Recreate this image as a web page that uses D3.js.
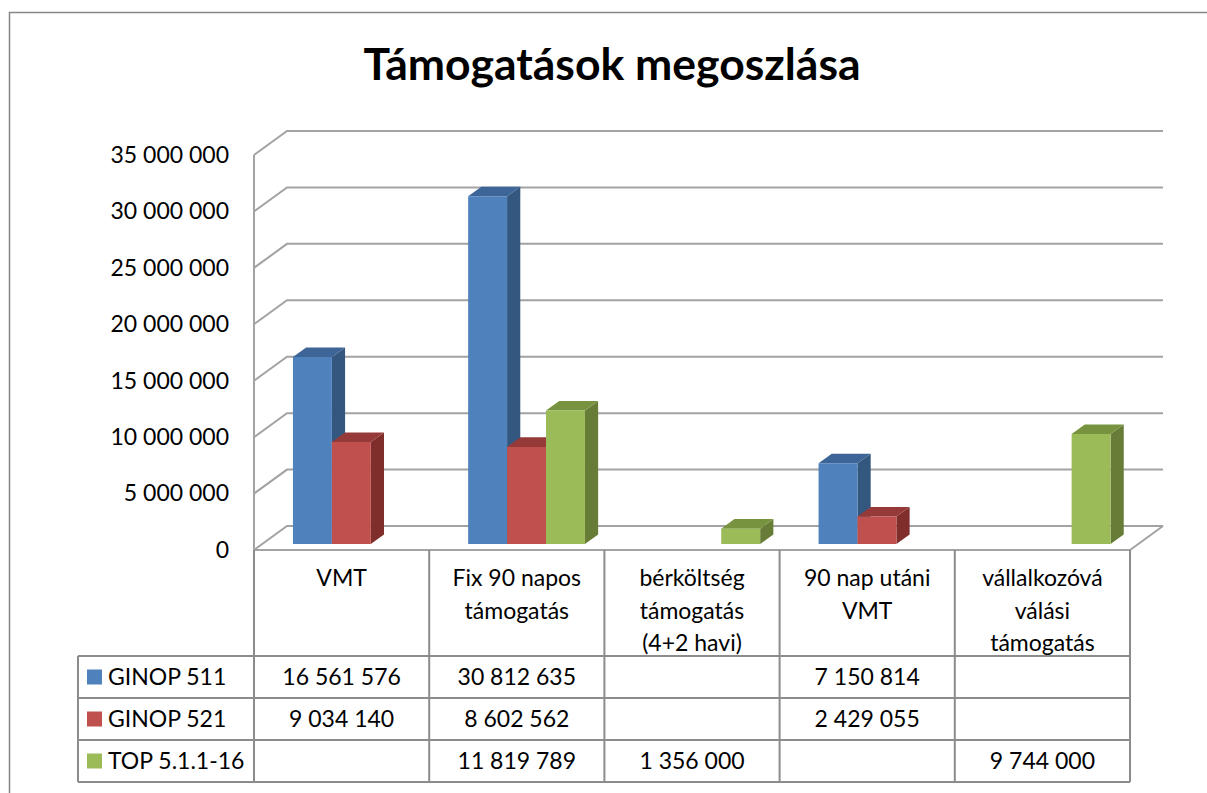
<!DOCTYPE html>
<html>
<head>
<meta charset="utf-8">
<script src="https://cdn.jsdelivr.net/npm/d3@7"></script>
<style>
  body { margin: 0; background: #fff; }
  text { font-family: Lato, "Open Sans", sans-serif; fill: #000; }
</style>
</head>
<body>
<div id="chart"></div>
<script>
// data
const categories = ["VMT", "Fix 90 napos támogatás", "bérköltség támogatás (4+2 havi)", "90 nap utáni VMT", "vállalkozóvá válási támogatás"];
const categoryLines = [["VMT"], ["Fix 90 napos", "támogatás"], ["bérköltség", "támogatás", "(4+2 havi)"], ["90 nap utáni", "VMT"], ["vállalkozóvá", "válási", "támogatás"]];
const seriesNames = ["GINOP 511", "GINOP 521", "TOP 5.1.1-16"];
const ginop511 = [16561576, 30812635, null, 7150814, null];
const ginop521 = [9034140, 8602562, null, 2429055, null];
const top5116 = [null, 11819789, 1356000, null, 9744000];
const yTicks = [0, 5000000, 10000000, 15000000, 20000000, 25000000, 30000000, 35000000];

const seriesValues = [ginop511, ginop521, top5116];
const colors = [
  {front: "#4f81bd", top: "#3e6598", side: "#34577f"},
  {front: "#c0504d", top: "#953a38", side: "#7f2e2c"},
  {front: "#9bbb59", top: "#789340", side: "#677d37"}
];

const w = 1207, h = 793;
const left = 254, right = 1130, floorY = 550;
const depthX = 33, depthY = 24;   // 3d offset of back wall
const barD0 = 0.25, barD1 = 0.65; // bar depth inside the floor
const fontSize = "23px";

const nf = d3.formatLocale({decimal: ",", thousands: " ", grouping: [3], currency: ["", ""]}).format(",d");

const proj = (x, y, d) => [x + depthX * d, y - depthY * d];

const svg = d3.select("#chart").append("svg")
  .attr("width", w)
  .attr("height", h);

// outer border (cut off on right and bottom)
svg.append("rect")
  .attr("x", 9.5).attr("y", 12.5)
  .attr("width", 1300).attr("height", 900)
  .attr("fill", "none")
  .attr("stroke", "#868686")
  .attr("stroke-width", 1.5);

svg.append("text")
  .attr("x", 612)
  .attr("y", 80)
  .attr("text-anchor", "middle")
  .style("font-size", "44.5px")
  .style("font-weight", "bold")
  .text("Támogatások megoszlása");

const x = d3.scaleBand().domain(categories).range([left, right]);
const xs = d3.scaleBand().domain(seriesNames).range([0, x.bandwidth()]).paddingOuter(0.75);
const y = d3.scaleLinear().domain([0, 35000000]).range([floorY, floorY - 395]);

// walls + gridlines
const grid = svg.append("g").attr("stroke", "#a3a3a3").attr("stroke-width", 2).attr("fill", "none");
yTicks.forEach(t => {
  const [bx, by] = proj(left, y(t), 1);
  const [ex] = proj(right, y(t), 1);
  grid.append("polyline")
    .attr("points", `${left},${y(t)} ${bx},${by} ${ex},${by}`);
});
grid.append("line")
  .attr("x1", left).attr("x2", left)
  .attr("y1", y(35000000)).attr("y2", floorY);
// floor front and right edges
const fr = proj(right, floorY, 1);
grid.append("polyline")
  .attr("points", `${left},${floorY} ${right},${floorY} ${fr[0]},${fr[1]}`);

// y axis labels
const yAxis = d3.axisLeft(y).tickValues(yTicks).tickFormat(nf).tickSize(0).tickPadding(25);
svg.append("g")
  .attr("transform", `translate(${left},0)`)
  .call(yAxis)
  .call(g => g.select(".domain").remove())
  .selectAll("text")
  .style("font-size", fontSize)
  .style("font-family", "Lato, 'Open Sans', sans-serif")
  .attr("fill", "#000");

// bars
const bars = svg.append("g");
categories.forEach((c, ci) => {
  seriesNames.forEach((s, si) => {
    const v = seriesValues[si][ci];
    if (v == null) return;
    const x0 = x(c) + xs(s) + 1.5, x1 = x0 + xs.bandwidth();
    const yt = y(v), yb = y(0);
    const p = (px, py, d) => proj(px, py, d).join(",");
    const col = colors[si];
    bars.append("polygon")
      .attr("points", [p(x1, yt, barD0), p(x1, yt, barD1), p(x1, yb, barD1), p(x1, yb, barD0)].join(" "))
      .attr("fill", col.side);
    bars.append("polygon")
      .attr("points", [p(x0, yt, barD0), p(x1, yt, barD0), p(x1, yt, barD1), p(x0, yt, barD1)].join(" "))
      .attr("fill", col.top);
    bars.append("polygon")
      .attr("points", [p(x0, yt, barD0), p(x1, yt, barD0), p(x1, yb, barD0), p(x0, yb, barD0)].join(" "))
      .attr("fill", col.front);
  });
});

// data table
const rowTop = 656, rowH = 42, tableLeft = 78;
const table = svg.append("g").attr("stroke", "#8c8c8c").attr("stroke-width", 2);
for (let i = 0; i <= categories.length; i++) {
  const xx = left + i * x.step();
  table.append("line").attr("x1", xx).attr("x2", xx).attr("y1", floorY).attr("y2", rowTop + rowH * 3);
}
table.append("line").attr("x1", tableLeft).attr("x2", tableLeft).attr("y1", rowTop).attr("y2", rowTop + rowH * 3);
for (let r = 0; r <= 3; r++) {
  table.append("line").attr("x1", tableLeft).attr("x2", right).attr("y1", rowTop + r * rowH).attr("y2", rowTop + r * rowH);
}

// header labels
categories.forEach((c, ci) => {
  const t = svg.append("text")
    .attr("text-anchor", "middle")
    .style("font-size", fontSize);
  categoryLines[ci].forEach((line, li) => {
    t.append("tspan")
      .attr("x", x(c) + x.bandwidth() / 2)
      .attr("y", 586 + li * 32.5)
      .text(line);
  });
});

// legend column + values
seriesNames.forEach((s, si) => {
  const cy = rowTop + si * rowH + rowH / 2;
  svg.append("rect")
    .attr("x", 87).attr("y", cy - 7.5)
    .attr("width", 15).attr("height", 15)
    .attr("fill", colors[si].front);
  svg.append("text")
    .attr("x", 108).attr("y", cy + 8)
    .style("font-size", fontSize)
    .text(s);
  seriesValues[si].forEach((v, ci) => {
    if (v == null) return;
    svg.append("text")
      .attr("x", x(categories[ci]) + x.bandwidth() / 2)
      .attr("y", cy + 8)
      .attr("text-anchor", "middle")
      .style("font-size", fontSize)
      .text(nf(v));
  });
});
</script>
</body>
</html>
